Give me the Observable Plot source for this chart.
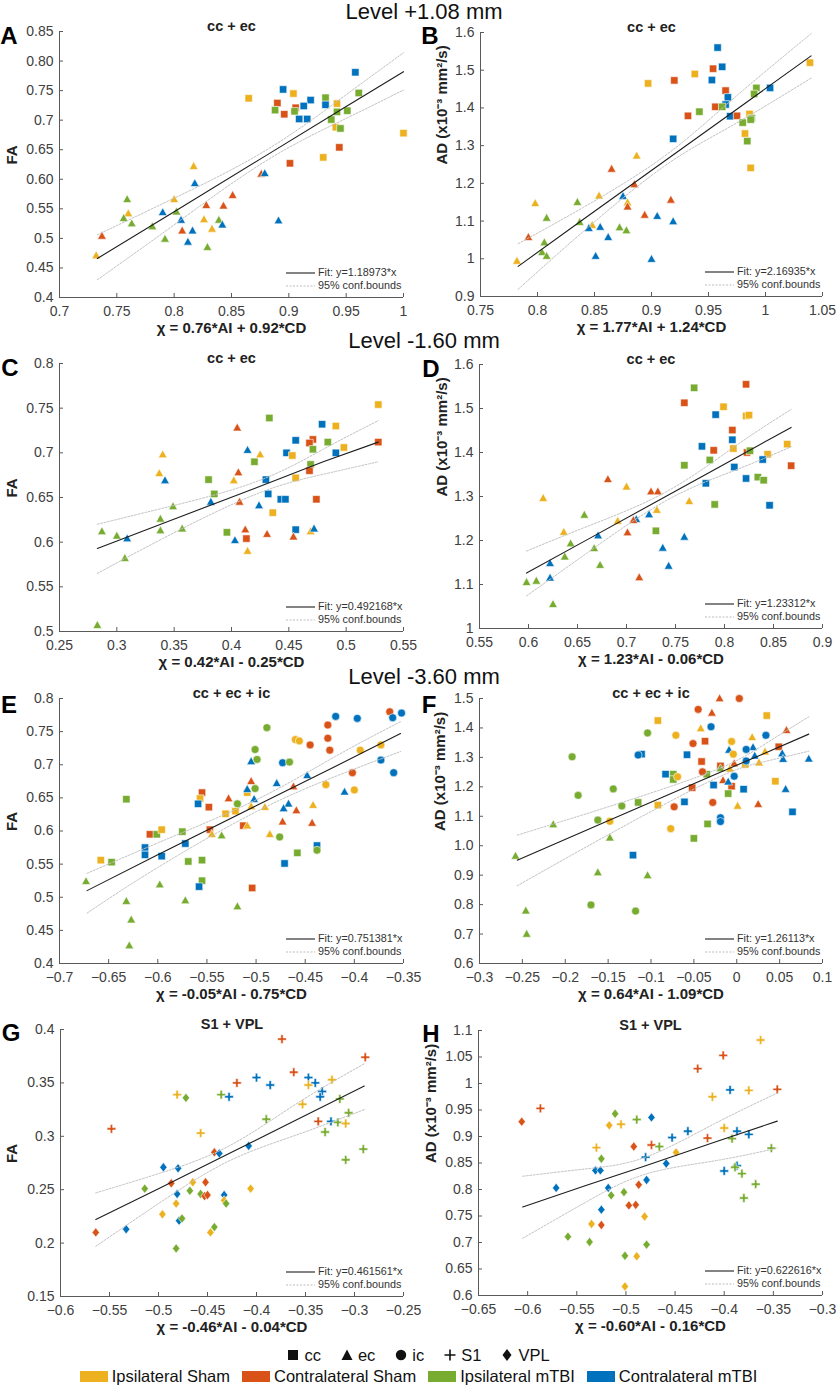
<!DOCTYPE html>
<html><head><meta charset="utf-8">
<script src="https://cdn.jsdelivr.net/npm/d3@7"></script>
<script src="https://cdn.jsdelivr.net/npm/@observablehq/plot@0.6"></script>
<style>
body{margin:0;background:#fff;}
#fig{position:relative;width:837px;height:1387px;font-family:"Liberation Sans",Arial,sans-serif;color:#222;overflow:hidden;background:#fff;}
.abs{position:absolute;white-space:nowrap;line-height:1;}
.lvl{font-size:22px;line-height:22px;transform:translate(-50%,-50%);color:#111;}
.let{font-size:24px;font-weight:bold;transform:translate(-50%,-50%);color:#000;}
.leg{font-size:10.8px;color:#333;line-height:13px;}
.leg div{display:flex;align-items:center;height:13px;}
.leg svg{margin-right:3px;}
.brow{position:absolute;left:0;width:837px;display:flex;justify-content:center;align-items:center;font-size:16.5px;line-height:1;color:#111;}
.brow .it{display:flex;align-items:center;}
</style></head><body><div id="fig"></div>
<script>
// ---------- categories ----------
const groupCodes = ["IS","CS","IM","CM"];
const groupNames = ["Ipsilateral Sham","Contralateral Sham","Ipsilateral mTBI","Contralateral mTBI"];
const groupColors = ["#EDB120","#D95319","#77AC30","#0072BD"];
const shapeCodes = ["cc","ec","ic","S1","VPL"];

// ---------- Panel A (Level +1.08 mm, FA) ----------
const A_cc = [[0.958,0.781,"CM"],[0.895,0.752,"CM"],[0.904,0.745,"IS"],[0.865,0.737,"IS"],[0.890,0.729,"CS"],[0.919,0.734,"CM"],[0.906,0.721,"CS"],[0.913,0.724,"CM"],[0.888,0.717,"IM"],[0.905,0.715,"IM"],[0.896,0.710,"CS"],[0.909,0.702,"CM"],[0.916,0.702,"CM"],[0.932,0.738,"IM"],[0.932,0.726,"CM"],[0.942,0.728,"IS"],[0.942,0.714,"IM"],[0.951,0.716,"IM"],[0.961,0.746,"IM"],[0.937,0.701,"IM"],[0.941,0.688,"IS"],[0.945,0.686,"IM"],[1.000,0.678,"IS"],[0.944,0.654,"CS"],[0.930,0.637,"IS"],[0.901,0.627,"CS"]];
const A_ec = [[0.876,0.609,"CS"],[0.879,0.610,"CM"],[0.891,0.530,"CM"],[0.817,0.622,"IS"],[0.818,0.593,"CM"],[0.851,0.573,"CS"],[0.759,0.566,"IM"],[0.800,0.566,"IS"],[0.828,0.556,"CS"],[0.843,0.555,"CS"],[0.802,0.545,"IM"],[0.790,0.544,"CM"],[0.760,0.542,"IS"],[0.756,0.534,"IM"],[0.806,0.531,"CM"],[0.826,0.532,"IS"],[0.839,0.531,"IM"],[0.763,0.525,"IM"],[0.781,0.520,"IM"],[0.833,0.516,"IS"],[0.842,0.523,"CM"],[0.816,0.513,"CM"],[0.807,0.513,"CS"],[0.737,0.504,"CS"],[0.792,0.499,"IM"],[0.812,0.494,"CM"],[0.829,0.485,"IM"],[0.732,0.471,"IS"]];
const A_bx = [0.733,0.8,0.88,0.95,1.0];
const A_fit = [0.466,0.545,0.640,0.723,0.782];
const A_up = [0.506,0.568,0.649,0.743,0.814];
const A_lo = [0.430,0.523,0.631,0.703,0.751];
const A_xt = [0.7,0.75,0.8,0.85,0.9,0.95,1];
const A_xl = ["0.7","0.75","0.8","0.85","0.9","0.95","1"];
const A_yt = [0.4,0.45,0.5,0.55,0.6,0.65,0.7,0.75,0.8,0.85];
const A_yl = ["0.4","0.45","0.5","0.55","0.60","0.65","0.7","0.75","0.80","0.85"];

// ---------- Panel B (Level +1.08 mm, AD) ----------
const B_cc = [[0.958,1.560,"CM"],[0.962,1.509,"CM"],[0.954,1.504,"CS"],[0.953,1.474,"CM"],[0.938,1.490,"IS"],[0.897,1.465,"IS"],[0.920,1.473,"CS"],[0.965,1.446,"CS"],[0.967,1.428,"CM"],[0.965,1.409,"CM"],[0.956,1.403,"CS"],[0.962,1.403,"IM"],[0.969,1.378,"CM"],[0.975,1.379,"CS"],[0.932,1.379,"CS"],[0.942,1.390,"IM"],[0.992,1.453,"IM"],[0.990,1.437,"IM"],[1.004,1.453,"CM"],[1.039,1.520,"IS"],[0.986,1.384,"IS"],[0.988,1.373,"IM"],[0.987,1.369,"IM"],[0.980,1.361,"IM"],[0.982,1.332,"IS"],[0.984,1.312,"IM"],[0.987,1.241,"IS"],[0.919,1.318,"CM"]];
const B_ec = [[0.887,1.273,"IS"],[0.865,1.238,"CS"],[0.885,1.197,"CS"],[0.854,1.167,"IS"],[0.875,1.166,"CM"],[0.917,1.156,"CS"],[0.879,1.149,"IS"],[0.879,1.138,"CS"],[0.798,1.147,"IS"],[0.835,1.150,"IM"],[0.808,1.108,"IM"],[0.837,1.097,"IM"],[0.894,1.116,"CS"],[0.905,1.113,"CM"],[0.919,1.099,"CM"],[0.848,1.089,"IS"],[0.845,1.081,"CM"],[0.855,1.084,"CM"],[0.872,1.083,"IM"],[0.878,1.075,"IM"],[0.862,1.057,"CM"],[0.792,1.057,"CS"],[0.806,1.043,"IM"],[0.804,1.017,"IM"],[0.808,1.007,"IM"],[0.851,1.007,"CM"],[0.900,0.999,"CM"],[0.782,0.994,"IS"]];
const B_bx = [0.783,0.84,0.91,0.97,1.040];
const B_fit = [0.980,1.104,1.256,1.386,1.538];
const B_up = [1.040,1.136,1.269,1.420,1.597];
const B_lo = [0.919,1.072,1.243,1.352,1.479];
const B_xt = [0.75,0.8,0.85,0.9,0.95,1,1.05];
const B_xl = ["0.75","0.8","0.85","0.9","0.95","1","1.05"];
const B_yt = [0.9,1,1.1,1.2,1.3,1.4,1.5,1.6];
const B_yl = ["0.9","1","1.1","1.2","1.3","1.4","1.5","1.6"];

// ---------- Panel C (Level -1.60 mm, FA) ----------
const C_cc = [[0.528,0.754,"IS"],[0.528,0.712,"CS"],[0.433,0.739,"IM"],[0.479,0.732,"CM"],[0.491,0.730,"IS"],[0.471,0.715,"CS"],[0.468,0.711,"CS"],[0.456,0.714,"CM"],[0.484,0.712,"IM"],[0.448,0.700,"CM"],[0.498,0.706,"IS"],[0.491,0.700,"CM"],[0.453,0.697,"IS"],[0.420,0.690,"IM"],[0.469,0.687,"IM"],[0.468,0.680,"CS"],[0.430,0.670,"CM"],[0.456,0.672,"IS"],[0.380,0.670,"IM"],[0.385,0.654,"IM"],[0.432,0.654,"CM"],[0.443,0.648,"CM"],[0.447,0.648,"CM"],[0.474,0.648,"CS"],[0.436,0.633,"IS"],[0.396,0.611,"IM"],[0.456,0.614,"CM"],[0.413,0.604,"CS"],[0.471,0.704,"IM"]];
const C_ec = [[0.405,0.728,"CS"],[0.414,0.703,"CM"],[0.425,0.698,"IS"],[0.340,0.698,"IS"],[0.337,0.677,"IS"],[0.342,0.669,"CM"],[0.406,0.678,"CS"],[0.402,0.669,"IS"],[0.407,0.645,"CS"],[0.382,0.645,"CM"],[0.424,0.641,"CM"],[0.349,0.640,"IM"],[0.338,0.626,"IM"],[0.338,0.613,"IM"],[0.357,0.615,"IM"],[0.287,0.612,"IM"],[0.300,0.607,"IM"],[0.309,0.604,"CM"],[0.412,0.614,"CS"],[0.431,0.609,"CS"],[0.454,0.606,"CS"],[0.469,0.612,"IS"],[0.472,0.615,"CM"],[0.403,0.602,"CM"],[0.414,0.590,"IS"],[0.307,0.582,"IM"],[0.283,0.507,"IM"]];
const C_bx = [0.283,0.34,0.42,0.48,0.528];
const C_fit = [0.593,0.621,0.660,0.690,0.712];
const C_up = [0.620,0.638,0.667,0.704,0.736];
const C_lo = [0.565,0.604,0.653,0.676,0.690];
const C_xt = [0.25,0.3,0.35,0.4,0.45,0.5,0.55];
const C_xl = ["0.25","0.3","0.35","0.4","0.45","0.5","0.55"];
const C_yt = [0.5,0.55,0.6,0.65,0.7,0.75,0.8];
const C_yl = ["0.5","0.55","0.6","0.65","0.7","0.75","0.8"];

// ---------- Panel D (Level -1.60 mm, AD) ----------
const D_cc = [[0.822,1.555,"CS"],[0.769,1.547,"IM"],[0.759,1.513,"CS"],[0.799,1.504,"IS"],[0.791,1.486,"CM"],[0.822,1.483,"IS"],[0.825,1.485,"IS"],[0.808,1.451,"CS"],[0.808,1.429,"CM"],[0.777,1.414,"CM"],[0.809,1.409,"IS"],[0.789,1.405,"CS"],[0.823,1.400,"CS"],[0.826,1.404,"IM"],[0.785,1.383,"IM"],[0.864,1.419,"IS"],[0.844,1.396,"IS"],[0.839,1.384,"CM"],[0.868,1.370,"CS"],[0.759,1.371,"IM"],[0.810,1.367,"CM"],[0.781,1.330,"CM"],[0.834,1.344,"IM"],[0.840,1.337,"IM"],[0.822,1.341,"CM"],[0.790,1.282,"IM"],[0.846,1.280,"CM"],[0.730,1.222,"IM"]];
const D_ec = [[0.681,1.339,"CS"],[0.700,1.322,"IS"],[0.615,1.296,"IS"],[0.725,1.311,"CS"],[0.732,1.311,"CS"],[0.764,1.289,"IS"],[0.731,1.269,"IS"],[0.657,1.258,"IM"],[0.723,1.259,"CM"],[0.710,1.248,"CM"],[0.707,1.246,"CS"],[0.691,1.244,"IS"],[0.636,1.219,"IS"],[0.701,1.218,"CS"],[0.671,1.211,"CM"],[0.759,1.208,"CM"],[0.643,1.193,"IM"],[0.667,1.182,"IM"],[0.737,1.183,"CM"],[0.637,1.163,"IM"],[0.622,1.148,"CM"],[0.673,1.144,"IM"],[0.743,1.142,"CM"],[0.713,1.116,"CS"],[0.622,1.115,"CM"],[0.608,1.108,"IM"],[0.598,1.105,"IM"],[0.625,1.055,"IM"]];
const D_bx = [0.598,0.66,0.74,0.81,0.868];
const D_fit = [1.126,1.202,1.300,1.386,1.457];
const D_up = [1.176,1.232,1.310,1.413,1.498];
const D_lo = [1.074,1.172,1.290,1.359,1.413];
const D_xt = [0.55,0.6,0.65,0.7,0.75,0.8,0.85,0.9];
const D_xl = ["0.55","0.6","0.65","0.7","0.75","0.8","0.85","0.9"];
const D_yt = [1,1.1,1.2,1.3,1.4,1.5,1.6];
const D_yl = ["1","1.1","1.2","1.3","1.4","1.5","1.6"];

// ---------- Panel E (Level -3.60 mm, FA) ----------
const E_cc = [[-0.555,0.658,"CS"],[-0.557,0.649,"IS"],[-0.509,0.658,"IS"],[-0.548,0.636,"CS"],[-0.559,0.641,"CM"],[-0.531,0.626,"IS"],[-0.521,0.630,"IS"],[-0.513,0.608,"CS"],[-0.547,0.602,"CS"],[-0.632,0.648,"IM"],[-0.608,0.595,"CS"],[-0.601,0.595,"IM"],[-0.596,0.602,"IS"],[-0.575,0.599,"IM"],[-0.572,0.581,"CM"],[-0.613,0.575,"CM"],[-0.613,0.564,"CM"],[-0.596,0.562,"CM"],[-0.658,0.556,"IS"],[-0.647,0.553,"IM"],[-0.569,0.554,"IM"],[-0.555,0.556,"IM"],[-0.555,0.525,"IM"],[-0.558,0.516,"CM"],[-0.504,0.514,"CS"],[-0.438,0.578,"CM"],[-0.471,0.551,"CM"],[-0.458,0.567,"IM"]];
const E_ec = [[-0.505,0.705,"CM"],[-0.505,0.675,"CS"],[-0.509,0.663,"CM"],[-0.502,0.648,"CM"],[-0.479,0.672,"CM"],[-0.448,0.684,"CM"],[-0.410,0.659,"CM"],[-0.462,0.667,"CS"],[-0.528,0.649,"CS"],[-0.491,0.636,"IS"],[-0.505,0.637,"IS"],[-0.467,0.641,"CM"],[-0.472,0.634,"CM"],[-0.459,0.631,"CS"],[-0.442,0.639,"IS"],[-0.473,0.614,"CS"],[-0.443,0.612,"CS"],[-0.509,0.608,"IS"],[-0.545,0.595,"IS"],[-0.486,0.595,"IS"],[-0.535,0.593,"IM"],[-0.598,0.519,"IM"],[-0.673,0.524,"IM"],[-0.632,0.494,"IM"],[-0.572,0.495,"IM"],[-0.519,0.486,"IM"],[-0.627,0.466,"IM"],[-0.629,0.427,"IM"]];
const E_ic = [[-0.364,0.780,"CS"],[-0.352,0.778,"CM"],[-0.361,0.771,"CM"],[-0.419,0.773,"CM"],[-0.397,0.770,"CM"],[-0.489,0.756,"IM"],[-0.427,0.760,"CS"],[-0.427,0.740,"CS"],[-0.460,0.738,"IS"],[-0.456,0.736,"IS"],[-0.445,0.730,"CS"],[-0.425,0.722,"CS"],[-0.501,0.723,"IM"],[-0.499,0.708,"IM"],[-0.394,0.722,"IS"],[-0.373,0.730,"IS"],[-0.373,0.707,"CM"],[-0.360,0.688,"CM"],[-0.473,0.703,"CM"],[-0.466,0.704,"IM"],[-0.402,0.688,"CS"],[-0.429,0.670,"IS"],[-0.400,0.662,"IS"],[-0.501,0.664,"IM"],[-0.519,0.641,"IM"],[-0.476,0.591,"IM"],[-0.438,0.571,"IM"]];
const E_bx = [-0.672,-0.6,-0.5,-0.42,-0.353];
const E_fit = [0.510,0.564,0.638,0.697,0.747];
const E_up = [0.536,0.582,0.647,0.712,0.765];
const E_lo = [0.476,0.545,0.629,0.682,0.720];
const E_xt = [-0.7,-0.65,-0.6,-0.55,-0.5,-0.45,-0.4,-0.35];
const E_xl = ["−0.7","−0.65","−0.6","−0.55","−0.5","−0.45","−0.4","−0.35"];
const E_yt = [0.4,0.45,0.5,0.55,0.6,0.65,0.7,0.75,0.8];
const E_yl = ["0.4","0.45","0.5","0.55","0.6","0.65","0.7","0.75","0.8"];

// ---------- Panel F (Level -3.60 mm, AD) ----------
const F_cc = [[-0.092,1.425,"IS"],[0.035,1.442,"IS"],[-0.037,1.355,"CS"],[0.049,1.336,"CS"],[-0.111,1.311,"CM"],[-0.058,1.309,"CM"],[-0.041,1.286,"CS"],[0.010,1.276,"IS"],[-0.019,1.271,"CS"],[-0.083,1.243,"CM"],[-0.074,1.243,"IM"],[-0.074,1.225,"IM"],[-0.006,1.202,"CS"],[-0.052,1.197,"CS"],[-0.027,1.206,"CM"],[0.008,1.192,"CM"],[0.045,1.219,"IS"],[-0.010,1.177,"IM"],[-0.035,1.243,"IM"],[-0.061,1.149,"CM"],[-0.115,1.147,"IM"],[-0.092,1.138,"IS"],[0.065,1.115,"CM"],[-0.034,1.074,"IM"],[-0.050,1.025,"IM"],[-0.121,0.968,"CM"]];
const F_ec = [[-0.020,1.500,"CS"],[-0.029,1.451,"CS"],[-0.042,1.398,"IS"],[0.058,1.392,"CS"],[0.018,1.368,"IS"],[0.019,1.334,"CM"],[-0.009,1.325,"CM"],[0.033,1.319,"IS"],[0.021,1.305,"CM"],[0.053,1.313,"CM"],[0.054,1.294,"CM"],[0.084,1.295,"CM"],[0.026,1.282,"IS"],[-0.003,1.279,"CS"],[-0.019,1.262,"IM"],[-0.008,1.261,"IS"],[-0.016,1.222,"CS"],[-0.010,1.217,"CM"],[0.057,1.192,"CM"],[0.001,1.135,"IS"],[0.025,1.141,"CS"],[-0.214,1.072,"IM"],[-0.148,1.027,"IM"],[-0.258,0.965,"IM"],[-0.162,0.909,"IM"],[-0.104,0.899,"IM"],[-0.246,0.779,"IM"],[-0.245,0.700,"IM"]];
const F_ic = [[0.003,1.500,"CS"],[-0.045,1.463,"CS"],[-0.030,1.404,"CM"],[-0.104,1.383,"IM"],[-0.071,1.375,"IS"],[-0.006,1.354,"IS"],[0.034,1.375,"CM"],[-0.051,1.347,"CS"],[0.011,1.327,"CM"],[-0.004,1.311,"IS"],[0.011,1.288,"CM"],[-0.192,1.302,"IM"],[-0.115,1.308,"CM"],[-0.040,1.251,"CS"],[-0.069,1.234,"IS"],[-0.003,1.236,"CM"],[-0.144,1.193,"IM"],[-0.185,1.171,"IM"],[-0.134,1.135,"IM"],[-0.028,1.147,"CS"],[-0.073,1.132,"CS"],[-0.019,1.095,"CM"],[-0.019,1.082,"CM"],[-0.162,1.087,"IM"],[-0.148,1.083,"IS"],[-0.077,1.058,"IS"],[-0.170,0.799,"IM"],[-0.118,0.778,"IM"]];
const F_bx = [-0.256,-0.15,-0.03,0.03,0.084];
const F_fit = [0.951,1.085,1.236,1.311,1.379];
const F_up = [1.036,1.132,1.251,1.340,1.438];
const F_lo = [0.864,1.037,1.221,1.284,1.321];
const F_xt = [-0.3,-0.25,-0.2,-0.15,-0.1,-0.05,0,0.05,0.1];
const F_xl = ["−0.3","−0.25","−0.2","−0.15","−0.1","−0.05","0","0.05","0.1"];
const F_yt = [0.6,0.7,0.8,0.9,1.0,1.1,1.2,1.3,1.4,1.5];
const F_yl = ["0.6","0.7","0.8","0.9","1.0","1.1","1.2","1.3","1.4","1.5"];

// ---------- Panel G (S1 + VPL, FA) ----------
const G_S1 = [[-0.374,0.391,"CS"],[-0.289,0.374,"CS"],[-0.362,0.360,"CS"],[-0.420,0.350,"CS"],[-0.400,0.355,"CM"],[-0.386,0.348,"CM"],[-0.347,0.355,"CM"],[-0.340,0.350,"CM"],[-0.347,0.348,"IS"],[-0.323,0.353,"IS"],[-0.333,0.342,"CM"],[-0.335,0.337,"CM"],[-0.481,0.339,"IS"],[-0.436,0.339,"IM"],[-0.428,0.337,"CM"],[-0.353,0.330,"IS"],[-0.315,0.335,"IM"],[-0.306,0.322,"IM"],[-0.390,0.316,"IM"],[-0.337,0.314,"CS"],[-0.324,0.314,"CM"],[-0.317,0.313,"IM"],[-0.309,0.312,"IS"],[-0.330,0.304,"IM"],[-0.548,0.307,"CS"],[-0.457,0.303,"IS"],[-0.291,0.288,"IM"],[-0.309,0.278,"IM"]];
const G_VPL = [[-0.472,0.336,"IM"],[-0.408,0.291,"CM"],[-0.443,0.285,"CS"],[-0.438,0.284,"CM"],[-0.495,0.271,"CM"],[-0.480,0.270,"CM"],[-0.487,0.256,"CS"],[-0.452,0.257,"CS"],[-0.465,0.257,"IS"],[-0.514,0.251,"IM"],[-0.468,0.249,"IM"],[-0.406,0.251,"IS"],[-0.457,0.246,"IM"],[-0.453,0.244,"CS"],[-0.450,0.245,"CS"],[-0.481,0.246,"CM"],[-0.433,0.245,"CM"],[-0.433,0.240,"IS"],[-0.431,0.237,"IM"],[-0.482,0.237,"IS"],[-0.496,0.227,"IS"],[-0.479,0.221,"CM"],[-0.476,0.223,"IM"],[-0.443,0.215,"IM"],[-0.447,0.210,"IS"],[-0.533,0.213,"CM"],[-0.564,0.210,"CS"],[-0.482,0.195,"IM"]];
const G_bx = [-0.564,-0.5,-0.43,-0.36,-0.290];
const G_fit = [0.222,0.251,0.283,0.315,0.347];
const G_up = [0.247,0.265,0.290,0.330,0.368];
const G_lo = [0.197,0.237,0.276,0.301,0.325];
const G_xt = [-0.6,-0.55,-0.5,-0.45,-0.4,-0.35,-0.3,-0.25];
const G_xl = ["−0.6","−0.55","−0.5","−0.45","−0.4","−0.35","−0.3","−0.25"];
const G_yt = [0.15,0.2,0.25,0.3,0.35,0.4];
const G_yl = ["0.15","0.2","0.25","0.3","0.35","0.4"];

// ---------- Panel H (S1 + VPL, AD) ----------
const H_S1 = [[-0.363,1.082,"IS"],[-0.401,1.053,"CS"],[-0.427,1.028,"CS"],[-0.394,0.988,"CM"],[-0.375,0.987,"IS"],[-0.346,0.989,"CS"],[-0.412,0.975,"IS"],[-0.587,0.953,"CS"],[-0.505,0.923,"IS"],[-0.489,0.932,"IM"],[-0.400,0.916,"IS"],[-0.437,0.910,"CM"],[-0.387,0.910,"CM"],[-0.453,0.898,"CM"],[-0.417,0.897,"CS"],[-0.375,0.904,"CM"],[-0.392,0.896,"IM"],[-0.474,0.884,"CS"],[-0.466,0.881,"IM"],[-0.530,0.879,"IS"],[-0.352,0.878,"IM"],[-0.480,0.861,"CM"],[-0.400,0.835,"CM"],[-0.387,0.845,"CM"],[-0.389,0.842,"IM"],[-0.382,0.830,"IM"],[-0.368,0.810,"IM"],[-0.380,0.784,"IM"]];
const H_VPL = [[-0.606,0.928,"CS"],[-0.511,0.943,"IM"],[-0.474,0.936,"CM"],[-0.517,0.921,"IS"],[-0.492,0.881,"CS"],[-0.449,0.870,"IS"],[-0.525,0.858,"IM"],[-0.459,0.849,"CM"],[-0.531,0.836,"CM"],[-0.526,0.836,"CM"],[-0.571,0.803,"CM"],[-0.518,0.803,"CM"],[-0.479,0.818,"CM"],[-0.487,0.809,"CS"],[-0.502,0.795,"IM"],[-0.515,0.789,"IM"],[-0.497,0.770,"CS"],[-0.490,0.771,"CS"],[-0.525,0.762,"CM"],[-0.481,0.749,"IS"],[-0.535,0.735,"IS"],[-0.525,0.733,"CS"],[-0.559,0.711,"IM"],[-0.537,0.701,"IM"],[-0.479,0.696,"IM"],[-0.501,0.675,"IM"],[-0.489,0.674,"IS"],[-0.501,0.617,"IS"]];
const H_bx = [-0.605,-0.54,-0.48,-0.41,-0.346];
const H_fit = [0.767,0.808,0.845,0.889,0.929];
const H_up = [0.825,0.839,0.861,0.924,0.982];
const H_lo = [0.708,0.777,0.829,0.854,0.878];
const H_xt = [-0.65,-0.6,-0.55,-0.5,-0.45,-0.4,-0.35,-0.3];
const H_xl = ["−0.65","−0.6","−0.55","−0.5","−0.45","−0.4","−0.35","−0.3"];
const H_yt = [0.6,0.65,0.7,0.75,0.8,0.85,0.9,0.95,1,1.05,1.1];
const H_yl = ["0.6","0.65","0.7","0.75","0.8","0.85","0.9","0.95","1","1.05","1.1"];

// ---------- text ----------
const levelTitles = ["Level +1.08 mm","Level -1.60 mm","Level -3.60 mm"];
const panelLetters = ["A","B","C","D","E","F","G","H"];
const regionTitles = ["cc + ec","cc + ec","cc + ec","cc + ec","cc + ec + ic","cc + ec + ic","S1 + VPL","S1 + VPL"];
const xLabels = ["χ = 0.76*AI + 0.92*CD","χ = 1.77*AI + 1.24*CD","χ = 0.42*AI - 0.25*CD","χ = 1.23*AI - 0.06*CD","χ = -0.05*AI - 0.75*CD","χ = 0.64*AI - 1.09*CD","χ = -0.46*AI - 0.04*CD","χ = -0.60*AI - 0.16*CD"];
const yLabels = ["FA","AD (x10⁻³ mm²/s)","FA","AD (x10⁻³ mm²/s)","FA","AD (x10⁻³ mm²/s)","FA","AD (x10⁻³ mm²/s)"];
const fitLabels = ["Fit: y=1.18973*x","Fit: y=2.16935*x","Fit: y=0.492168*x","Fit: y=1.23312*x","Fit: y=0.751381*x","Fit: y=1.26113*x","Fit: y=0.461561*x","Fit: y=0.622616*x"];
const boundsLabel = "95% conf.bounds";

// ---------- layout (pixels) ----------
const frames = [
  {left:59,right:403,top:31,bottom:297},{left:480,right:822,top:32,bottom:296},
  {left:59,right:403,top:363,bottom:631},{left:479,right:822,top:364,bottom:628},
  {left:59,right:403,top:698,bottom:963},{left:479,right:822,top:698,bottom:963},
  {left:60,right:403,top:1029,bottom:1296},{left:478,right:822,top:1030,bottom:1295}];
const yLabelDx = [-47,-38,-47,-37,-47,-39,-48,-47];
const letterPos = [[9,36],[430,36],[10,368],[431,369],[9,705],[429,705],[11,1033],[431,1034]];
const levelPos = [[424,12],[424,341],[424,677]];

// ---------- symbols ----------
const sk = s => Math.sqrt(s / (16 * Math.PI));
const symSquare = {draw(c, s){ const h = 3.7*sk(s); c.rect(-h,-h,2*h,2*h); }};
const symTri = {draw(c, s){ const q = sk(s); c.moveTo(0,-4.7*q); c.lineTo(4.4*q,3.2*q); c.lineTo(-4.4*q,3.2*q); c.closePath(); }};
const symCircle = {draw(c, s){ const r = 4.0*sk(s); c.moveTo(r,0); c.arc(0,0,r,0,2*Math.PI); c.closePath(); }};
const symPlus = {draw(c, s){ const q = sk(s), a = 4.4*q, t = 1.2*q;
  c.moveTo(-a,-t); c.lineTo(-t,-t); c.lineTo(-t,-a); c.lineTo(t,-a); c.lineTo(t,-t); c.lineTo(a,-t);
  c.lineTo(a,t); c.lineTo(t,t); c.lineTo(t,a); c.lineTo(-t,a); c.lineTo(-t,t); c.lineTo(-a,t); c.closePath(); }};
const symDiamond = {draw(c, s){ const q = sk(s); c.moveTo(0,-4.7*q); c.lineTo(3.7*q,0); c.lineTo(0,4.7*q); c.lineTo(-3.7*q,0); c.closePath(); }};
const shapeSymbols = [symSquare, symTri, symCircle, symPlus, symDiamond];

const panels = [
  {series:[["cc",A_cc],["ec",A_ec]], bx:A_bx, fit:A_fit, up:A_up, lo:A_lo, xt:A_xt, xl:A_xl, yt:A_yt, yl:A_yl},
  {series:[["cc",B_cc],["ec",B_ec]], bx:B_bx, fit:B_fit, up:B_up, lo:B_lo, xt:B_xt, xl:B_xl, yt:B_yt, yl:B_yl},
  {series:[["cc",C_cc],["ec",C_ec]], bx:C_bx, fit:C_fit, up:C_up, lo:C_lo, xt:C_xt, xl:C_xl, yt:C_yt, yl:C_yl},
  {series:[["cc",D_cc],["ec",D_ec]], bx:D_bx, fit:D_fit, up:D_up, lo:D_lo, xt:D_xt, xl:D_xl, yt:D_yt, yl:D_yl},
  {series:[["cc",E_cc],["ec",E_ec],["ic",E_ic]], bx:E_bx, fit:E_fit, up:E_up, lo:E_lo, xt:E_xt, xl:E_xl, yt:E_yt, yl:E_yl},
  {series:[["cc",F_cc],["ec",F_ec],["ic",F_ic]], bx:F_bx, fit:F_fit, up:F_up, lo:F_lo, xt:F_xt, xl:F_xl, yt:F_yt, yl:F_yl},
  {series:[["S1",G_S1],["VPL",G_VPL]], bx:G_bx, fit:G_fit, up:G_up, lo:G_lo, xt:G_xt, xl:G_xl, yt:G_yt, yl:G_yl},
  {series:[["S1",H_S1],["VPL",H_VPL]], bx:H_bx, fit:H_fit, up:H_up, lo:H_lo, xt:H_xt, xl:H_xl, yt:H_yt, yl:H_yl}
];

const fig = document.getElementById("fig");
const FONT = '"Liberation Sans", Arial, Helvetica, sans-serif';
const AXIS = "#5a5a5a";

function addDiv(cls, text, x, y) {
  const d = document.createElement("div");
  d.className = "abs " + cls; d.textContent = text;
  d.style.left = x + "px"; d.style.top = y + "px";
  fig.appendChild(d); return d;
}

panels.forEach((p, i) => {
  const f = frames[i];
  const W = f.right - f.left, H = f.bottom - f.top;
  const mL = 75, mR = 20, mT = 30, mB = 50;
  const pts = [];
  for (const [shape, arr] of p.series) for (const [x, y, g] of arr) pts.push({x, y, shape, group: g});
  const band = ys => p.bx.map((x, j) => ({x, y: ys[j]}));
  const xmap = new Map(p.xt.map((v, j) => [v, p.xl[j]]));
  const ymap = new Map(p.yt.map((v, j) => [v, p.yl[j]]));
  const chart = Plot.plot({
    width: W + mL + mR, height: H + mT + mB,
    marginLeft: mL, marginRight: mR, marginTop: mT, marginBottom: mB,
    style: {background: "transparent", fontFamily: FONT, fontSize: "14px", overflow: "visible"},
    x: {domain: [p.xt[0], p.xt[p.xt.length - 1]]},
    y: {domain: [p.yt[0], p.yt[p.yt.length - 1]]},
    color: {domain: groupCodes, range: groupColors},
    symbol: {domain: shapeCodes, range: shapeSymbols},
    marks: [
      Plot.ruleY([p.yt[0]], {stroke: AXIS}),
      Plot.ruleX([p.xt[0]], {stroke: AXIS}),
      Plot.tickX(p.xt, {x: d => d, insetTop: H - 4, stroke: AXIS}),
      Plot.tickY(p.yt, {y: d => d, insetRight: W - 4, stroke: AXIS}),
      Plot.axisX(p.xt, {tickSize: 0, tickPadding: 9, tickFormat: d => xmap.get(d), label: null, fontSize: 14, fill: "#404040"}),
      Plot.axisY(p.yt, {tickSize: 0, tickPadding: 6, tickFormat: d => ymap.get(d), label: null, fontSize: 14, fill: "#404040"}),
      Plot.dot(pts, {x: "x", y: "y", symbol: "shape", fill: "group", r: 4, stroke: "white", strokeWidth: 0.6}),
      Plot.line(band(p.up), {x: "x", y: "y", curve: "natural", stroke: "#c2c2c2", strokeWidth: 1, strokeDasharray: "2 1.5"}),
      Plot.line(band(p.lo), {x: "x", y: "y", curve: "natural", stroke: "#c2c2c2", strokeWidth: 1, strokeDasharray: "2 1.5"}),
      Plot.line(band(p.fit), {x: "x", y: "y", stroke: "#1e1e1e", strokeWidth: 1.1}),
      Plot.text([regionTitles[i]], {text: d => d, frameAnchor: "top", dy: -11, fontWeight: "bold", fontSize: 14.5, fill: "#222"}),
      Plot.text([xLabels[i]], {text: d => d, frameAnchor: "bottom", dy: 35, fontWeight: "bold", fontSize: 15, fill: "#222"}),
      Plot.text([yLabels[i]], {text: d => d, frameAnchor: "left", dx: yLabelDx[i], rotate: -90, fontWeight: "bold", fontSize: 15, fill: "#222"})
    ]
  });
  chart.style.position = "absolute";
  chart.style.left = (f.left - mL) + "px";
  chart.style.top = (f.top - mT) + "px";
  chart.style.maxWidth = "none";
  fig.appendChild(chart);

  // in-plot fit legend
  const lg = document.createElement("div");
  lg.className = "abs leg";
  lg.style.left = (f.right - 117) + "px";
  lg.style.top = (f.bottom - 31) + "px";
  lg.innerHTML =
    `<div><svg width="29" height="8"><line x1="0" y1="4" x2="29" y2="4" stroke="#1e1e1e" stroke-width="1.1"/></svg><span>${fitLabels[i]}</span></div>` +
    `<div><svg width="29" height="8"><line x1="0" y1="4" x2="29" y2="4" stroke="#bdbdbd" stroke-width="1" stroke-dasharray="2 1.5"/></svg><span>${boundsLabel}</span></div>`;
  fig.appendChild(lg);

  addDiv("let", panelLetters[i], letterPos[i][0], letterPos[i][1]);
});

levelTitles.forEach((t, i) => addDiv("lvl", t, levelPos[i][0], levelPos[i][1]));

// ---------- bottom legends ----------
const shapeLegendLabels = ["cc","ec","ic","S1","VPL"];
const shapeIcons = [
  '<rect x="1" y="1" width="10" height="10" fill="#111"/>',
  '<polygon points="6,0.5 11.5,11 0.5,11" fill="#111"/>',
  '<circle cx="6" cy="6" r="5.2" fill="#111"/>',
  '<path d="M5.2,0.5h1.6v4.7h4.7v1.6h-4.7v4.7h-1.6v-4.7h-4.7v-1.6h4.7z" fill="#111"/>',
  '<polygon points="6,0 10.5,6 6,12 1.5,6" fill="#111"/>'];
const row1 = document.createElement("div");
row1.className = "brow"; row1.style.top = (1355 - 8) + "px";
row1.innerHTML = shapeLegendLabels.map((l, i) =>
  `<span class="it" style="margin:0 10px"><svg width="12" height="12" style="margin-right:5px">${shapeIcons[i]}</svg>${l}</span>`).join("");
fig.appendChild(row1);

const row2 = document.createElement("div");
row2.className = "brow"; row2.style.top = (1376 - 8) + "px";
row2.innerHTML = groupNames.map((l, i) =>
  `<span class="it" style="margin:0 6px"><span style="display:inline-block;width:28px;height:11px;background:${groupColors[i]};margin-right:4px"></span>${l}</span>`).join("");
fig.appendChild(row2);
</script></body></html>
